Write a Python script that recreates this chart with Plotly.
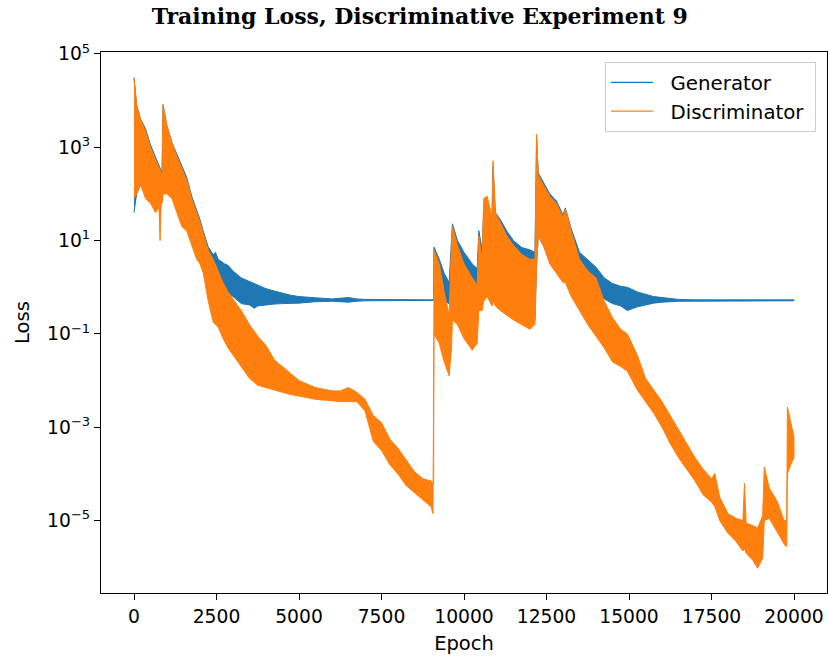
import numpy as np
import plotly.graph_objects as go

# ---- data (log10 of loss; low / high envelope of the noisy trace) ----
gen_epoch = [0, 80, 200, 350, 500, 650, 760, 790, 820, 850, 880, 1000, 1150, 1300, 1450, 1600,
             1750, 1900, 2000, 2100, 2250, 2400, 2470, 2550, 2750, 2850, 3000, 3250, 3500, 3650,
             3750, 4000, 4250, 4500, 4750, 5000, 5500, 6000, 6500, 6750, 7000, 8000, 9000,
             9080, 9090, 9250, 9400, 9550, 9620, 9650, 9800, 10000, 10250, 10400, 10450,
             10550, 10600, 10700, 10850, 10880, 10950, 11100, 11300, 11500, 11750, 12000,
             12150, 12200, 12250, 12400, 12600, 12800, 13000, 13070, 13250, 13500, 13750,
             14000, 14250, 14500, 14750, 14950, 15250, 15500, 15750, 16000, 16500, 17000,
             19999]
gen_hi_log = [4.49, 3.9, 3.6, 3.4, 3.05, 2.8, 2.6, 2.55, 2.5, 2.45, 3.9, 3.45, 3.1, 2.85, 2.6, 2.35,
              1.95, 1.65, 1.45, 1.2, 0.86, 0.7, 0.75, 0.6, 0.5, 0.47, 0.35, 0.2, 0.12, 0.08,
              0.05, -0.03, -0.08, -0.13, -0.17, -0.2, -0.23, -0.25, -0.22, -0.25, -0.26, -0.27, -0.27,
              -0.27, 0.86, 0.6, 0.3, 0.1, 1.0, 1.36, 1.0, 0.75, 0.5, 0.4, 1.21,
              0.8, 1.7, 1.68, 1.55, 2.6, 1.6, 1.45, 1.2, 1.0, 0.85, 0.8,
              0.75, 3.2, 2.45, 2.25, 2.0, 1.85, 1.55, 1.7, 1.25, 0.75, 0.6,
              0.43, 0.2, 0.08, 0.02, 0.0, -0.1, -0.15, -0.2, -0.22, -0.26, -0.27,
              -0.27]
gen_lo_log = [1.6, 2.0, 2.2, 2.0, 1.9, 1.7, 1.8, 1.5, 1.8, 1.8, 2.1, 2.1, 2.0, 1.7, 1.45, 1.3,
              1.0, 0.8, 0.6, 0.45, 0.3, 0.05, 0.05, -0.05, -0.05, -0.1, -0.2, -0.35, -0.38, -0.45,
              -0.4, -0.38, -0.36, -0.35, -0.34, -0.34, -0.31, -0.30, -0.32, -0.30, -0.29, -0.29, -0.28,
              -0.28, -0.2, -0.25, -0.3, -0.35, -0.3, -0.2, -0.25, -0.25, -0.3, -0.3, -0.2,
              -0.3, -0.2, -0.2, -0.3, -0.3, -0.3, -0.4, -0.5, -0.6, -0.7, -0.8,
              -0.7, 0.5, 1.1, 0.9, 0.6, 0.4, 0.2, 0.2, 0.0, -0.1, -0.05,
              -0.07, -0.25, -0.35, -0.4, -0.5, -0.42, -0.38, -0.34, -0.32, -0.3, -0.29,
              -0.29]

disc_epoch = [0, 80, 200, 350, 500, 650, 760, 790, 820, 850, 880, 1000, 1150, 1300, 1450, 1600,
              1750, 1900, 2000, 2100, 2250, 2400, 2550, 2700, 2850, 3000, 3250, 3500, 3750, 4000,
              4250, 4400, 4500, 4750, 5000, 5500, 6000, 6250, 6500, 6750, 7000, 7250, 7500,
              7750, 8000, 8250, 8500, 8750, 9000, 9060, 9080, 9090, 9250, 9400, 9550, 9620,
              9650, 9800, 10000, 10250, 10400, 10450, 10550, 10600, 10700, 10850, 10880, 10950,
              11100, 11300, 11500, 11750, 12000, 12150, 12200, 12250, 12400, 12600, 12800,
              13000, 13070, 13250, 13500, 13750, 14000, 14250, 14500, 14750, 14950, 15250,
              15500, 15750, 16000, 16250, 16500, 16750, 17000, 17250, 17500, 17600, 17750,
              18000, 18250, 18450, 18500, 18550, 18750, 18900, 19050, 19100, 19250, 19500,
              19700, 19780, 19800, 19900, 19999]
disc_hi_log = [4.49, 3.9, 3.6, 3.35, 3.0, 2.75, 2.55, 2.5, 2.45, 2.4, 3.92, 3.45, 3.1, 2.8, 2.55, 2.3,
               1.9, 1.6, 1.4, 1.15, 0.8, 0.6, 0.35, 0.1, -0.1, -0.25, -0.5, -0.8, -1.05, -1.25,
               -1.55, -1.65, -1.7, -1.85, -2.0, -2.15, -2.22, -2.22, -2.15, -2.25, -2.4, -2.75, -2.9,
               -3.25, -3.45, -3.7, -3.95, -4.1, -4.15, -4.2, -4.2, 0.8, 0.5, -0.1, -0.6, 0.9,
               1.3, 0.9, 0.5, 0.2, 0.05, 1.1, 0.6, 1.9, 1.95, 1.5, 2.71, 1.6,
               1.4, 1.1, 0.9, 0.7, 0.6, 0.6, 3.28, 2.4, 2.2, 1.95, 1.8,
               1.5, 1.68, 1.2, 0.6, 0.35, 0.2, -0.3, -0.65, -0.9, -1.0, -1.45,
               -1.95, -2.2, -2.45, -2.75, -3.05, -3.35, -3.65, -3.9, -4.1, -3.99, -4.5,
               -4.85, -4.95, -5.0, -4.2, -5.05, -5.1, -5.15, -4.9, -3.85, -4.3, -4.6,
               -5.0, -5.0, -2.57, -2.9, -3.2]
disc_lo_log = [1.9, 2.0, 2.2, 1.9, 1.8, 1.6, 1.7, 1.0, 1.8, 1.8, 2.0, 2.0, 1.9, 1.6, 1.3, 1.2,
               0.9, 0.6, 0.5, 0.3, -0.3, -0.75, -0.85, -1.1, -1.3, -1.45, -1.7, -1.95, -2.1, -2.15,
               -2.2, -2.23, -2.25, -2.3, -2.33, -2.4, -2.43, -2.45, -2.45, -2.45, -2.65, -3.3, -3.5,
               -3.8, -4.0, -4.25, -4.4, -4.55, -4.7, -4.85, -4.6, -1.0, -1.2, -1.6, -1.9, -1.3,
               -0.7, -0.8, -1.1, -1.35, -1.2, -0.5, -0.5, -0.3, -0.2, -0.4, -0.3, -0.4,
               -0.5, -0.6, -0.7, -0.8, -0.9, -0.8, 0.5, 1.1, 0.9, 0.5, 0.3,
               0.1, 0.1, -0.2, -0.5, -0.8, -1.05, -1.3, -1.6, -1.7, -1.8, -2.2,
               -2.45, -2.7, -3.0, -3.35, -3.65, -3.9, -4.15, -4.45, -4.6, -4.7, -5.0,
               -5.27, -5.45, -5.65, -5.6, -5.7, -5.85, -6.02, -5.8, -5.0, -4.95, -5.25,
               -5.5, -5.56, -4.0, -3.8, -3.65]

x_tick_values = [0, 2500, 5000, 7500, 10000, 12500, 15000, 17500, 20000]
x_tick_labels = ["0", "2500", "5000", "7500", "10000", "12500", "15000", "17500", "20000"]
y_tick_values = [1e-5, 1e-3, 1e-1, 1e1, 1e3, 1e5]
y_tick_labels = ["10<sup>\u22125</sup>", "10<sup>\u22123</sup>", "10<sup>\u22121</sup>",
                 "10<sup>1</sup>", "10<sup>3</sup>", "10<sup>5</sup>"]

BLUE = "#1f77b4"
ORANGE = "#ff7f0e"
FONT = "DejaVu Sans"
NB = "\u00a0"


def band(epoch, lo_log, hi_log):
    ep = np.asarray(epoch, dtype=float)
    lo = 10 ** np.asarray(lo_log, dtype=float)
    hi = 10 ** np.asarray(hi_log, dtype=float)
    return np.concatenate([ep, ep[::-1]]), np.concatenate([hi, lo[::-1]])


fig = go.Figure()

gx, gy = band(gen_epoch, gen_lo_log, gen_hi_log)
fig.add_trace(go.Scatter(x=gx, y=gy, mode="lines", fill="toself", fillcolor=BLUE,
                         line=dict(color=BLUE, width=1), showlegend=False, hoverinfo="skip"))
dx, dy = band(disc_epoch, disc_lo_log, disc_hi_log)
fig.add_trace(go.Scatter(x=dx, y=dy, mode="lines", fill="toself", fillcolor=ORANGE,
                         line=dict(color=ORANGE, width=1), showlegend=False, hoverinfo="skip"))

# legend entries (line samples)
fig.add_trace(go.Scatter(x=[None], y=[None], mode="lines", name=NB * 2 + "Generator" + NB,
                         line=dict(color=BLUE, width=1.3)))
fig.add_trace(go.Scatter(x=[None], y=[None], mode="lines", name=NB * 2 + "Discriminator" + NB,
                         line=dict(color=ORANGE, width=1.3)))

axis_common = dict(
    showgrid=False, zeroline=False, showline=True, linecolor="black", linewidth=1.2,
    mirror=True, ticks="outside", ticklen=6, tickwidth=1.1, tickcolor="black",
    tickfont=dict(family=FONT, size=18.7, color="black"), automargin=False,
)

fig.update_layout(
    width=828, height=660,
    margin=dict(l=101, r=1, t=52, b=67),
    paper_bgcolor="white", plot_bgcolor="white",
    title=dict(text="<b>Training Loss, Discriminative Experiment 9</b>",
               font=dict(family="DejaVu Serif", size=22, color="black"),
               x=0.507, xref="container", xanchor="center",
               y=1 - 16 / 660, yref="container", yanchor="middle"),
    xaxis=dict(range=[-1000, 21000], tickmode="array", tickvals=x_tick_values,
               ticktext=x_tick_labels,
               title=dict(text="Epoch", font=dict(family=FONT, size=19.5, color="black"),
                          standoff=10),
               **axis_common),
    yaxis=dict(type="log", range=[-6.55, 5.04], tickmode="array", tickvals=y_tick_values,
               ticktext=y_tick_labels,
               title=dict(text="Loss", font=dict(family=FONT, size=19.5, color="black"),
                          standoff=12),
               **axis_common),
    legend=dict(x=0.9848, y=0.9815, xanchor="right", yanchor="top",
                bgcolor="rgba(255,255,255,0.8)", bordercolor="#cccccc", borderwidth=1,
                font=dict(family=FONT, size=19.8, color="black"), itemwidth=42),
    showlegend=True,
)

# remove the default page margin so the 828x660 figure fills the window exactly
fig.write_html("out.html",
               config={"displayModeBar": False},
               post_script="document.body.style.margin='0';"
                           "document.body.style.overflow='hidden';")
